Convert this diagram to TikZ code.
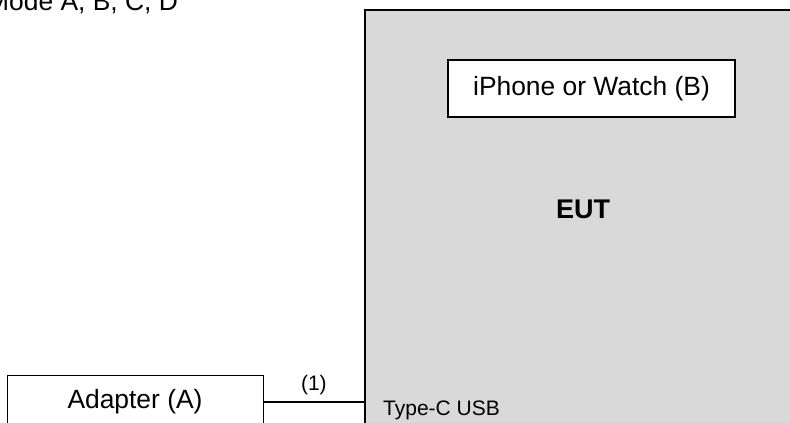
\documentclass[tikz,border=0pt]{standalone}
\usepackage{fontspec}
\setmainfont{Liberation Sans}
\definecolor{eutgray}{RGB}{217,217,217}
\tikzset{
  px/.style={x=1pt,y=-1pt},
  box/.style={draw=black, line width=1.2pt, fill=white, inner sep=0pt, font=\fontsize{26.4}{30}\selectfont},
  bigbox/.style={draw=black, line width=1.6pt, fill=eutgray, inner sep=0pt},
  lbl/.style={inner sep=0pt, font=\fontsize{21}{24}\selectfont},
  wire/.style={draw=black, line width=1.2pt}
}
\begin{document}
\begin{tikzpicture}[px]
\useasboundingbox (0,0) rectangle (790,423);
\clip (0,0) rectangle (790,423);
\node[anchor=base west, inner sep=0pt, font=\fontsize{26.4}{30}\selectfont] (mode) at (-13,10) {Mode A, B, C, D};
\node[bigbox, minimum width=440pt, minimum height=430pt] (eut) at (585,225) {};
\node[box, minimum width=287pt, minimum height=57pt] (phone) at (591.5,88.5) {iPhone or Watch (B)};
\node[inner sep=0pt, font=\bfseries\fontsize{27}{30}\selectfont] (euttxt) at (583,209) {EUT};
\node[box, line width=1pt, minimum width=256pt, minimum height=54pt] (adapter) at (135,402) {Adapter (A)};
\node[lbl, anchor=west] (usb) at (383,410) {Type-C USB};
\draw[wire] (adapter.east) -- (eut.west |- adapter.east) node[lbl, midway, above=7pt] (one) {(1)};
\end{tikzpicture}
\end{document}
